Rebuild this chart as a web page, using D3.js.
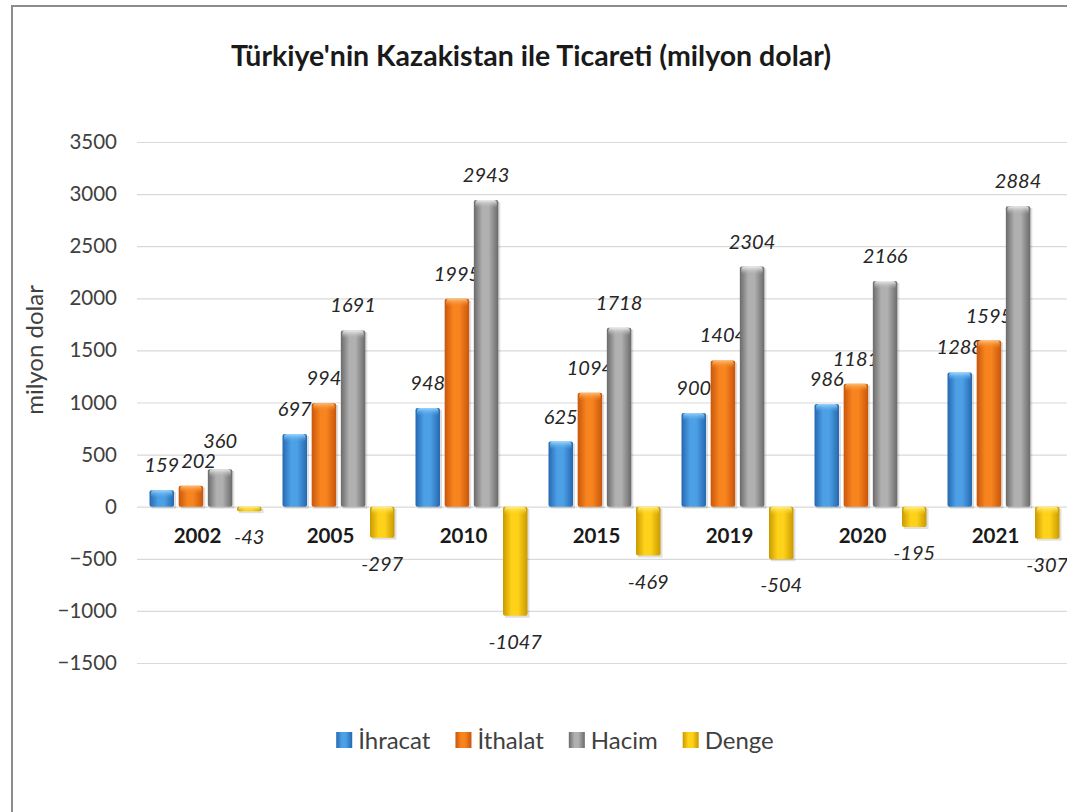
<!DOCTYPE html>
<html>
<head>
<meta charset="utf-8">
<script src="https://cdn.jsdelivr.net/npm/d3@7"></script>
<style>
  html, body { margin: 0; padding: 0; background: #fff; overflow: hidden; }
  svg { display: block; font-family: "Lato", "Open Sans", sans-serif; }
</style>
</head>
<body>
<div id="chart"></div>
<script>
const years = ["2002", "2005", "2010", "2015", "2019", "2020", "2021"];
const seriesNames = ["İhracat", "İthalat", "Hacim", "Denge"];
const ihracat = [159, 697, 948, 625, 900, 986, 1288];
const ithalat = [202, 994, 1995, 1094, 1404, 1181, 1595];
const hacim = [360, 1691, 2943, 1718, 2304, 2166, 2884];
const denge = [-43, -297, -1047, -469, -504, -195, -307];
const yTicks = [3500, 3000, 2500, 2000, 1500, 1000, 500, 0, -500, -1000, -1500];

const width = 1067, height = 812;
const svg = d3.select("#chart").append("svg")
  .attr("width", width)
  .attr("height", height);

// colours: [edge, centre, cap]
const palette = {
  "İhracat": ["#2468b0", "#4da0e6", "#9ad6ff"],
  "İthalat": ["#c9560a", "#f7841f", "#ffbd72"],
  "Hacim":   ["#6a6a6a", "#b0b0b0", "#ececec"],
  "Denge":   ["#c99a00", "#ffd21a", "#fff08a"]
};

const defs = svg.append("defs");
seriesNames.forEach((s, i) => {
  const c = palette[s];
  const g = defs.append("linearGradient").attr("id", "grad" + i)
    .attr("x1", "0%").attr("x2", "100%").attr("y1", "0%").attr("y2", "0%");
  g.append("stop").attr("offset", "0%").attr("stop-color", c[0]);
  g.append("stop").attr("offset", "35%").attr("stop-color", c[1]);
  g.append("stop").attr("offset", "60%").attr("stop-color", c[1]);
  g.append("stop").attr("offset", "100%").attr("stop-color", c[0]);
  const cap = defs.append("linearGradient").attr("id", "cap" + i)
    .attr("x1", "0%").attr("x2", "0%").attr("y1", "0%").attr("y2", "100%");
  cap.append("stop").attr("offset", "0%").attr("stop-color", c[2]).attr("stop-opacity", 1);
  cap.append("stop").attr("offset", "100%").attr("stop-color", c[1]).attr("stop-opacity", 0);
});

// frame
svg.append("rect")
  .attr("x", 12).attr("y", 6)
  .attr("width", 1100).attr("height", 900)
  .attr("fill", "#fff")
  .attr("stroke", "#8c8c8c")
  .attr("stroke-width", 2);

// title
svg.append("text")
  .attr("x", 531).attr("y", 66)
  .attr("text-anchor", "middle")
  .style("font-size", "28.5px")
  .style("font-weight", "bold")
  .attr("fill", "#1a1a1a")
  .text("Türkiye'nin Kazakistan ile Ticareti (milyon dolar)");

const y = d3.scaleLinear().domain([-1500, 3500]).range([663, 142]);
const x0 = d3.scaleBand().domain(years).range([139, 1070])
  .paddingInner(0.158).paddingOuter(0.079);
const x1 = d3.scaleBand().domain(seriesNames).range([0, x0.bandwidth()])
  .paddingInner(0.16);

// grid + y axis
const yAxis = svg.append("g")
  .attr("transform", "translate(137,0)")
  .call(d3.axisLeft(y).tickValues(yTicks).tickSize(-1000).tickPadding(20).tickFormat(d3.format("d")));
yAxis.select(".domain").remove();
yAxis.selectAll(".tick line").attr("stroke", "#d9d9d9").attr("stroke-width", 1.2);
yAxis.selectAll(".tick text")
  .attr("fill", "#404040")
  .style("font-size", "20.5px")
  .style("font-family", "Lato, sans-serif");

svg.append("text")
  .attr("transform", "translate(43,350) rotate(-90)")
  .attr("text-anchor", "middle")
  .style("font-size", "24px")
  .attr("fill", "#404040")
  .text("milyon dolar");

const rows = years.map((yr, i) => ({
  year: yr,
  values: [ihracat[i], ithalat[i], hacim[i], denge[i]]
}));

const groups = svg.append("g").selectAll("g")
  .data(rows)
  .join("g")
  .attr("transform", d => `translate(${x0(d.year)},0)`);

const bars = groups.selectAll("g.bar")
  .data(d => d.values.map((v, i) => ({ series: seriesNames[i], idx: i, value: v })))
  .join("g")
  .attr("class", "bar");

const bw = x1.bandwidth();

// faint shadow
bars.append("rect")
  .attr("x", d => x1(d.series) + 2)
  .attr("y", d => Math.min(y(d.value), y(0)) + 2)
  .attr("width", bw)
  .attr("height", d => Math.abs(y(d.value) - y(0)))
  .attr("fill", "#000")
  .attr("opacity", 0.12);

bars.append("rect")
  .attr("x", d => x1(d.series))
  .attr("y", d => Math.min(y(d.value), y(0)))
  .attr("width", bw)
  .attr("height", d => Math.abs(y(d.value) - y(0)))
  .attr("rx", 2)
  .attr("fill", d => `url(#grad${d.idx})`);

bars.append("rect")
  .attr("x", d => x1(d.series) + 1.5)
  .attr("y", d => Math.min(y(d.value), y(0)))
  .attr("width", bw - 3)
  .attr("height", d => Math.min(8, Math.abs(y(d.value) - y(0))))
  .attr("rx", 3)
  .attr("fill", d => `url(#cap${d.idx})`);

// value labels
bars.append("text")
  .attr("class", "val")
  .attr("x", d => x1(d.series) + bw / 2)
  .attr("y", d => d.value >= 0 ? y(d.value) - 18 : y(d.value) + 33)
  .attr("text-anchor", "middle")
  .style("font-size", "20px")
  .style("font-style", "italic")
  .attr("fill", "#262626")
  .text(d => d.value);

// nudge labels that collide with the one to their left
groups.each(function() {
  let prev = null;
  d3.select(this).selectAll("text.val").each(function() {
    const t = d3.select(this);
    let b = this.getBBox();
    if (prev) {
      const overlapX = prev.x + prev.width - b.x;
      const overlapY = Math.min(prev.y + prev.height, b.y + b.height) - Math.max(prev.y, b.y);
      if (overlapX > 0 && overlapY > 0) {
        if (overlapX < 10) {
          t.attr("x", +t.attr("x") + overlapX + 2);
        } else {
          t.attr("y", +t.attr("y") - (b.y + b.height - prev.y) + 4);
        }
        b = this.getBBox();
      }
    }
    prev = b;
  });
});

// category labels
groups.append("text")
  .attr("x", x0.bandwidth() / 2 - 8)
  .attr("y", y(0) + 36)
  .attr("text-anchor", "middle")
  .style("font-size", "20.5px")
  .style("font-weight", "bold")
  .attr("fill", "#1a1a1a")
  .text(d => d.year);

// legend
const legend = svg.append("g").attr("transform", "translate(0,740)");
const items = legend.selectAll("g")
  .data(seriesNames)
  .join("g");
items.append("rect")
  .attr("y", -8).attr("width", 16).attr("height", 16)
  .attr("fill", (d, i) => `url(#grad${i})`);
items.append("text")
  .attr("x", 22).attr("y", 8.5)
  .style("font-size", "24px")
  .attr("fill", "#404040")
  .text(d => d);

let offset = 0;
const positions = [];
items.each(function() {
  const w = 22 + this.querySelector("text").getComputedTextLength();
  positions.push(offset);
  offset += w + 25;
});
const total = offset - 25;
const startX = 555 - total / 2;
items.attr("transform", (d, i) => `translate(${startX + positions[i]},0)`);
</script>
</body>
</html>
